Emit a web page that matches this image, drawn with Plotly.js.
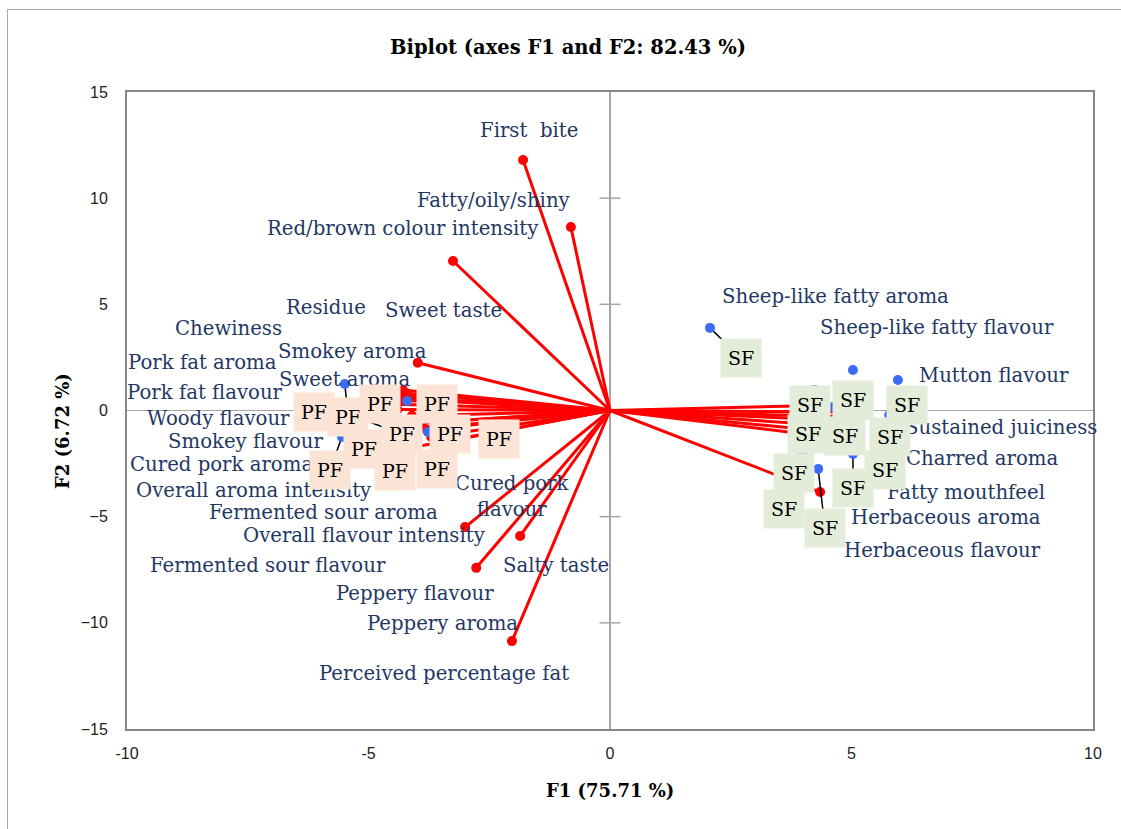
<!DOCTYPE html>
<html>
<head>
<meta charset="utf-8">
<script src="https://cdn.plot.ly/plotly-3.0.1.min.js"></script>
<style>
  html, body { margin: 0; padding: 0; background: #fff; }
  #wrap { position: relative; width: 1121px; height: 829px; }
  #chart { position: absolute; left: 0; top: 0; width: 1121px; height: 829px; }
  #frame { position: absolute; left: 7px; top: 9px; right: 0; bottom: 0;
           border-top: 1.5px solid #A6A6A6; border-left: 1.5px solid #A6A6A6;
           pointer-events: none; }
</style>
</head>
<body>
<div id="wrap"><div id="chart"></div><div id="frame"></div></div>
<script>
// ---------------- Data ----------------
const chartTitle = 'Biplot (axes F1 and F2: 82.43 %)';
const xTitle = 'F1 (75.71 %)';
const yTitle = 'F2 (6.72 %)';
const xTicks = [-10, -5, 0, 5, 10];
const yTicks = [-15, -10, -5, 0, 5, 10, 15];

// Variables (red vectors)
const varNames = [
  'First\u00a0 bite', 'Fatty/oily/shiny', 'Red/brown colour intensity', 'Residue', 'Sweet taste',
  'Chewiness', 'Smokey aroma', 'Pork fat aroma', 'Sweet aroma', 'Pork fat flavour',
  'Woody flavour', 'Smokey flavour', 'Cured pork aroma', 'Overall aroma intensity', 'Fermented sour aroma',
  'Cured pork<br>flavour', 'Overall flavour intensity', 'Fermented sour flavour', 'Salty taste', 'Peppery flavour',
  'Peppery aroma', 'Perceived percentage fat',
  'Sheep-like fatty aroma', 'Sheep-like fatty flavour', 'Mutton flavour', 'Sustained juiciness',
  'Charred aroma', 'Fatty mouthfeel', 'Herbaceous aroma', 'Herbaceous flavour'
];
const varF1 = [
  -1.80, -0.81, -3.25, -4.20, -4.05,
  -4.35, -3.98, -4.45, -4.29, -4.40,
  -4.10, -3.90, -3.80, -4.66, -3.70,
  -1.86, -3.00, -3.60, -2.77, -3.40,
  -3.30, -2.03,
  4.76, 4.87, 4.97, 4.66,
  4.50, 4.35, 4.35, 4.20
];
const varF2 = [
  11.80, 8.64, 7.04, 0.80, 0.60,
  0.55, 2.25, 0.30, 0.97, 0.05,
  -0.25, -0.60, -0.90, -1.98, -1.25,
  -5.91, -5.49, -1.55, -7.41, -0.75,
  -0.50, -10.86,
  0.26, -0.07, -0.30, -0.45,
  -0.70, -0.95, -3.84, -1.15
];
const varLabelF1 = [
  -1.68, -2.40, -4.29, -5.88, -3.44,
  -7.89, -5.34, -8.43, -5.49, -8.39,
  -8.10, -7.54, -8.05, -7.37, -5.94,
  -2.01, -5.09, -7.08, -1.12, -4.04,
  -3.46, -3.44,
  4.66, 6.77, 7.95, 8.10,
  7.70, 7.37, 6.96, 6.89
];
const varLabelF2 = [
  13.17, 9.87, 8.55, 4.87, 4.73,
  3.84, 2.76, 2.24, 1.44, 0.87,
  -0.40, -1.44, -2.52, -3.79, -4.78,
  -4.07, -5.91, -7.28, -7.28, -8.60,
  -10.01, -12.37,
  5.39, 3.89, 1.67, -0.78,
  -2.28, -3.84, -5.02, -6.57
];

// Observations (blue points with PF / SF labels)
const obsNames = [
  'SF','SF','SF','SF','SF','SF','SF','SF','SF','SF','SF','SF',
  'PF','PF','PF','PF','PF','PF','PF','PF','PF','PF','PF'
];
const obsF1 = [
  2.07, 5.03, 5.96, 4.24, 4.62, 5.78, 3.98, 5.03, 4.31, 5.69, 3.60, 4.10,
  -5.49, -4.20, -3.77, -5.55, -5.09, -6.13, -3.58, -2.30, -5.09, -4.45, -3.58
];
const obsF2 = [
  3.89, 1.91, 1.44, 0.97, 0.16, -0.21, -2.05, -2.05, -2.75, -2.80, -4.64, -1.11,
  1.25, 0.45, -1.01, -1.25, -0.45, -0.07, 0.31, -1.34, -1.81, -2.85, -2.76
];
const obsLabelF1 = [
  2.71, 5.03, 6.15, 4.14, 4.87, 5.80, 3.81, 5.03, 4.45, 5.69, 3.60, 4.10,
  -5.42, -4.76, -3.31, -5.80, -4.31, -6.13, -3.58, -2.30, -5.09, -4.45, -3.58
];
const obsLabelF2 = [
  2.47, 0.49, 0.26, 0.26, -1.20, -1.25, -2.94, -3.65, -5.53, -2.80, -4.64, -1.11,
  -0.31, 0.31, -1.11, -2.80, -1.11, -0.07, 0.31, -1.34, -1.81, -2.85, -2.76
];

// ---------------- Styles ----------------
const xRange = [-10, 10], yRange = [-15, 15];
const plotL = 127, plotR = 28, plotT = 92, plotB = 100, W = 1121, H = 829;
const pxPerX = (W - plotL - plotR) / (xRange[1] - xRange[0]);
const pxPerY = (H - plotT - plotB) / (yRange[1] - yRange[0]);
const labelColor = '#1F3864';
const serif = 'DejaVu Serif, Liberation Serif, serif';
const groupColors = { SF: '#E3EBD9', PF: '#FBE3D6' };

// ---------------- Traces ----------------
const vx = [], vy = [];
varF1.forEach((v, i) => { vx.push(0, v, null); vy.push(0, varF2[i], null); });

const lx = [], ly = [];
obsF1.forEach((v, i) => {
  const dxp = (obsLabelF1[i] - v) * pxPerX;
  const dyp = (obsLabelF2[i] - obsF2[i]) * pxPerY;
  if (Math.hypot(dxp, dyp) > 32) {
    lx.push(v, obsLabelF1[i], null);
    ly.push(obsF2[i], obsLabelF2[i], null);
  }
});

const inner = a => a.filter(t => t > Math.min(...a) && t < Math.max(...a) && t !== 0);
const xtIn = inner(xTicks), ytIn = inner(yTicks);

const traces = [
  { x: vx, y: vy, mode: 'lines', type: 'scatter', line: { color: '#FF0000', width: 3 }, hoverinfo: 'skip' },
  { x: varF1, y: varF2, mode: 'markers', type: 'scatter', marker: { color: '#FF0000', size: 10 }, hoverinfo: 'skip' },
  { x: lx, y: ly, mode: 'lines', type: 'scatter', line: { color: '#000000', width: 1.5 }, hoverinfo: 'skip' },
  { x: obsF1, y: obsF2, mode: 'markers', type: 'scatter', marker: { color: '#3B6CF3', size: 10 }, hoverinfo: 'skip' },
  { x: ytIn.map(() => 0), y: ytIn, mode: 'markers', type: 'scatter',
    marker: { symbol: 'line-ew', size: 15, line: { color: '#A6A6A6', width: 1.5 } }, hoverinfo: 'skip' },
  { x: xtIn, y: xtIn.map(() => 0), mode: 'markers', type: 'scatter',
    marker: { symbol: 'line-ns', size: 15, line: { color: '#A6A6A6', width: 1.5 } }, hoverinfo: 'skip' }
];

// ---------------- Annotations ----------------
const annotations = [];
varNames.forEach((n, i) => {
  annotations.push({
    x: varLabelF1[i], y: varLabelF2[i], xref: 'x', yref: 'y', text: n, showarrow: false,
    xanchor: 'center', yanchor: 'middle',
    font: { family: serif, size: 19.7, color: labelColor }
  });
});
obsNames.forEach((n, i) => {
  annotations.push({
    x: obsLabelF1[i], y: obsLabelF2[i], xref: 'x', yref: 'y', text: n, showarrow: false,
    xanchor: 'center', yanchor: 'middle', width: 40, height: 38, borderpad: 0,
    bgcolor: groupColors[n], font: { family: serif, size: 19, color: '#000000' }
  });
});
annotations.push({
  text: '<b>' + xTitle + '</b>', xref: 'paper', yref: 'paper',
  x: 0.5, y: -(790 - (H - plotB)) / (H - plotT - plotB),
  showarrow: false, xanchor: 'center', yanchor: 'middle',
  font: { family: serif, size: 18, color: '#000' }
});
annotations.push({
  text: '<b>' + yTitle + '</b>', xref: 'paper', yref: 'paper',
  x: (62 - plotL) / (W - plotL - plotR), y: ((H - plotB) - 431) / (H - plotT - plotB),
  showarrow: false, xanchor: 'center', yanchor: 'middle', textangle: -90,
  font: { family: serif, size: 18, color: '#000' }
});

const axisCommon = {
  showgrid: false, zeroline: true, zerolinecolor: '#A6A6A6', zerolinewidth: 1.5,
  showline: true, mirror: true, linecolor: '#878787', linewidth: 2,
  ticks: '', tickmode: 'array',
  tickfont: { family: 'Liberation Sans, Arial, sans-serif', size: 16, color: '#222222' },
  fixedrange: true
};

const layout = {
  width: W, height: H,
  margin: { l: plotL, r: plotR, t: plotT, b: plotB },
  paper_bgcolor: 'rgba(0,0,0,0)', plot_bgcolor: '#ffffff',
  showlegend: false, hovermode: false,
  title: {
    text: '<b>' + chartTitle + '</b>', xref: 'container', yref: 'container',
    x: 568 / W, y: 1 - 47 / H, xanchor: 'center', yanchor: 'middle',
    font: { family: serif, size: 19.5, color: '#000' }
  },
  xaxis: Object.assign({}, axisCommon, { range: xRange, tickvals: xTicks, ticktext: xTicks.map(String), ticklabelstandoff: 9 }),
  yaxis: Object.assign({}, axisCommon, { range: yRange, tickvals: yTicks, ticklabelstandoff: 14 }),
  annotations: annotations
};

Plotly.newPlot('chart', traces, layout, { displayModeBar: false, staticPlot: true });
</script>
</body>
</html>
